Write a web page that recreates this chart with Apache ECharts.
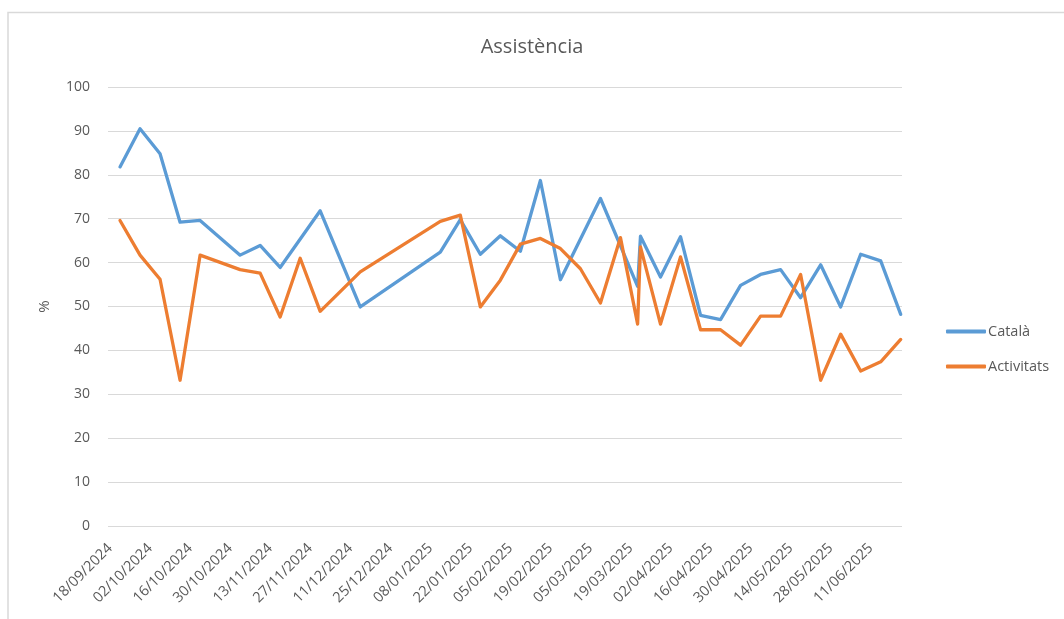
<!DOCTYPE html>
<html>
<head>
<meta charset="utf-8">
<script src="https://cdn.jsdelivr.net/npm/echarts@6/dist/echarts.min.js"></script>
<style>
  html, body { margin: 0; padding: 0; background: #fff; }
  #chart { width: 1064px; height: 619px; }
</style>
</head>
<body>
<div id="chart"></div>
<script>
// dates of the sessions (yyyy-mm-dd)
var dates = [
  '2024-09-18', '2024-09-25', '2024-10-02', '2024-10-09', '2024-10-16', '2024-10-30',
  '2024-11-06', '2024-11-13', '2024-11-20', '2024-11-27', '2024-12-11', '2025-01-08',
  '2025-01-15', '2025-01-22', '2025-01-29', '2025-02-05', '2025-02-12', '2025-02-19',
  '2025-02-26', '2025-03-05', '2025-03-12', '2025-03-18', '2025-03-19', '2025-03-26',
  '2025-04-02', '2025-04-09', '2025-04-16', '2025-04-23', '2025-04-30', '2025-05-07',
  '2025-05-14', '2025-05-21', '2025-05-28', '2025-06-04', '2025-06-11', '2025-06-18'
];
// % Català (null = no point, line goes straight through)
var catala = [
  81.8, 90.5, 84.8, 69.2, 69.6, 61.7,
  63.9, 58.9, null, 71.8, 49.9, 62.4,
  69.8, 61.9, 66.1, 62.6, 78.7, 56.1,
  null, 74.6, null, 54.6, 66.0, 56.7,
  65.9, 48.0, 47.0, 54.8, 57.3, 58.4,
  52.0, 59.5, 49.9, 61.9, 60.4, 48.2
];
// % Activitats
var activitats = [
  69.6, 61.7, 56.2, 33.2, 61.7, 58.4,
  57.6, 47.6, 61.0, 48.9, 57.9, 69.4,
  70.8, 49.9, 56.0, 64.2, 65.5, 63.2,
  58.6, 50.8, 65.7, 46.0, 63.6, 46.0,
  61.3, 44.7, 44.7, 41.2, 47.8, 47.8,
  57.3, 33.2, 43.7, 35.3, 37.4, 42.5
];
// x axis labels every 14 days
var tickDates = [
  '2024-09-18', '2024-10-02', '2024-10-16', '2024-10-30', '2024-11-13', '2024-11-27',
  '2024-12-11', '2024-12-25', '2025-01-08', '2025-01-22', '2025-02-05', '2025-02-19',
  '2025-03-05', '2025-03-19', '2025-04-02', '2025-04-16', '2025-04-30', '2025-05-14',
  '2025-05-28', '2025-06-11'
];
var seriesNames = ['Català', 'Activitats'];

var DAY = 86400000;
var base = Date.UTC(2024, 8, 18);
// day number from 18/09/2024
function dayNum(s) {
  var p = s.split('-');
  return Math.round((Date.UTC(+p[0], +p[1] - 1, +p[2]) - base) / DAY);
}
function fmtDay(n) {
  var d = new Date(base + Math.round(n) * DAY);
  var dd = ('0' + d.getUTCDate()).slice(-2);
  var mm = ('0' + (d.getUTCMonth() + 1)).slice(-2);
  return dd + '/' + mm + '/' + d.getUTCFullYear();
}
function pairs(vals) {
  var out = [];
  for (var i = 0; i < dates.length; i++) {
    out.push([dayNum(dates[i]), vals[i]]);
  }
  return out;
}

var txt = '#595959';
var fontFam = '"Open Sans", "Noto Sans", sans-serif';

var chart = echarts.init(document.getElementById('chart'));
chart.setOption({
  animation: false,
  color: ['#5B9BD5', '#ED7D31'],
  title: {
    text: 'Assistència',
    left: 'center',
    top: 32,
    textStyle: { color: txt, fontSize: 20, fontWeight: 'normal', fontFamily: fontFam }
  },
  graphic: [{
    type: 'rect',
    shape: { x: 8, y: 12.5, width: 1080, height: 640 },
    style: { fill: 'none', stroke: '#d9d9d9', lineWidth: 1.5 },
    silent: true
  }],
  legend: {
    orient: 'vertical',
    left: 941,
    top: 319,
    itemWidth: 40,
    itemHeight: 4,
    itemGap: 20,
    icon: 'roundRect',
    textStyle: { color: txt, fontSize: 14.5, fontFamily: fontFam, padding: [0, 0, 0, -3] },
    data: seriesNames
  },
  grid: { left: 108, right: 162, top: 87, bottom: 93 },
  xAxis: {
    type: 'value',
    min: -4.2,
    max: 273.45,
    axisLine: { show: false },
    axisTick: { show: false },
    splitLine: { show: false },
    axisLabel: {
      customValues: tickDates.map(dayNum),
      rotate: 45,
      margin: 10,
      padding: [0, 14, 0, 0],
      color: txt,
      fontSize: 14.5,
      fontFamily: fontFam,
      formatter: function (v) { return fmtDay(v); }
    }
  },
  yAxis: {
    type: 'value',
    min: 0,
    max: 100,
    interval: 10,
    name: '%',
    nameLocation: 'middle',
    nameRotate: 90,
    nameGap: 56,
    nameTextStyle: { color: txt, fontSize: 15, fontFamily: fontFam },
    axisLine: { show: false },
    axisTick: { show: false },
    axisLabel: { color: txt, fontSize: 14, fontFamily: fontFam, margin: 18 },
    splitLine: { lineStyle: { color: '#d9d9d9', width: 1 } }
  },
  series: [
    {
      name: seriesNames[0],
      type: 'line',
      showSymbol: false,
      connectNulls: true,
      lineStyle: { width: 3.3, join: 'round', cap: 'round' },
      data: pairs(catala)
    },
    {
      name: seriesNames[1],
      type: 'line',
      showSymbol: false,
      connectNulls: true,
      lineStyle: { width: 3.3, join: 'round', cap: 'round' },
      data: pairs(activitats)
    }
  ]
});
</script>
</body>
</html>
